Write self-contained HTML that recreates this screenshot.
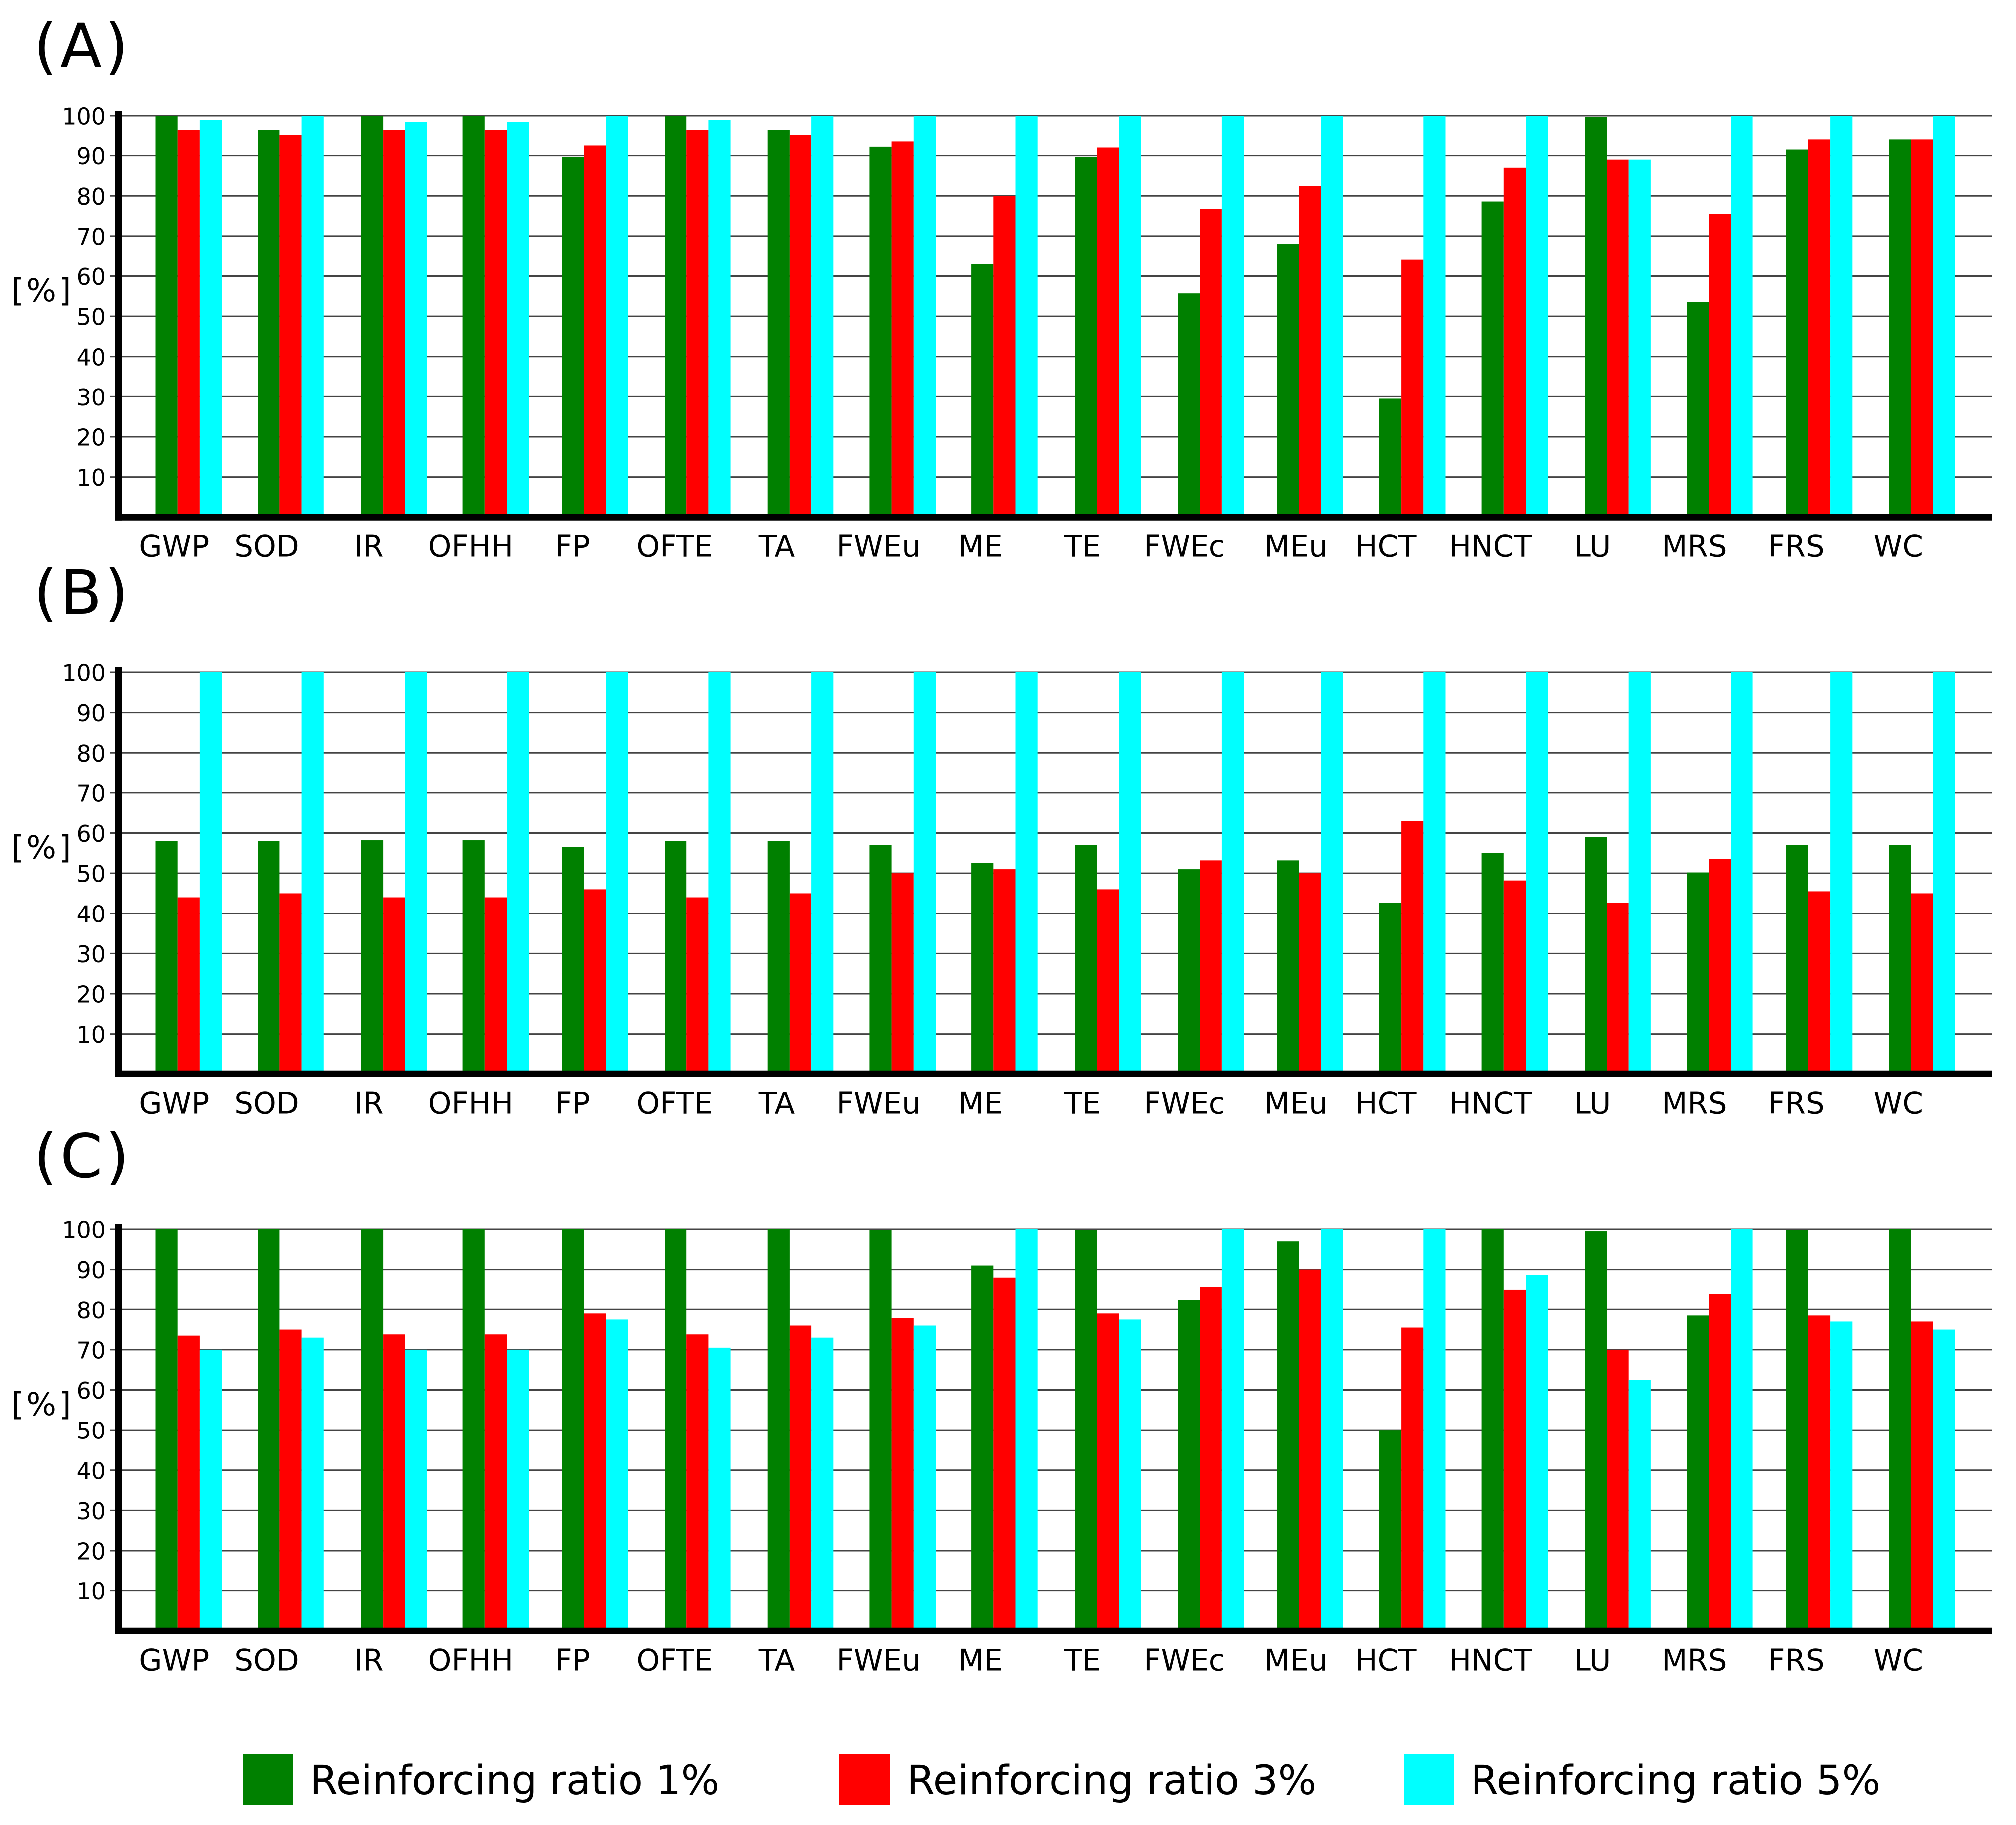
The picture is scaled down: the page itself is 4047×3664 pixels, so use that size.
<!DOCTYPE html>
<html lang="en">
<head>
<meta charset="utf-8">
<title>Reinforcing ratio comparison</title>
<style>
  html, body { margin: 0; padding: 0; background: #fff; }
  svg { display: block; }
  text { font-family: "DejaVu Sans", "Liberation Sans", sans-serif; fill: #000; }
</style>
</head>
<body>
<svg id="chart" xmlns="http://www.w3.org/2000/svg" width="4047" height="3664" viewBox="0 0 4047 3664">
  <rect x="0" y="0" width="4047" height="3664" fill="#ffffff"/>
  <g id="panels"></g>
  <g>
    <g>
      <rect x="487" y="3521" width="102" height="102" fill="#008000"/>
      <text x="622" y="3602" font-size="81">Reinforcing ratio 1%</text>
    </g>
    <g>
      <rect x="1685" y="3521" width="102" height="102" fill="#ff0000"/>
      <text x="1820" y="3602" font-size="81">Reinforcing ratio 3%</text>
    </g>
    <g>
      <rect x="2818" y="3521" width="100" height="102" fill="#00ffff"/>
      <text x="2952" y="3602" font-size="81">Reinforcing ratio 5%</text>
    </g>
  </g>
</svg>
<script>
const categories = ["GWP","SOD","IR","OFHH","FP","OFTE","TA","FWEu","ME","TE","FWEc","MEu","HCT","HNCT","LU","MRS","FRS","WC"];
const yTicks = [10,20,30,40,50,60,70,80,90,100];
const panelNames = ["A","B","C"];

const panelAGreen = [100,96.5,100,100,89.7,100,96.5,92.2,63,89.6,55.7,68,29.5,78.6,99.7,53.5,91.5,94];
const panelARed = [96.5,95.1,96.5,96.5,92.5,96.5,95.1,93.5,80,92,76.7,82.5,64.2,87,89,75.5,94,94];
const panelACyan = [99,100,98.5,98.5,100,99,100,100,100,100,100,100,100,100,89,100,100,100];

const panelBGreen = [58,58,58.2,58.2,56.5,58,58,57,52.5,57,51,53.2,42.7,55,59,50.2,57,57];
const panelBRed = [44,45,44,44,46,44,45,50,51,46,53.2,50,63,48.2,42.7,53.5,45.5,45];
const panelBCyan = [100,100,100,100,100,100,100,100,100,100,100,100,100,100,100,100,100,100];

const panelCGreen = [100,100,100,100,100,100,100,99.8,91,99.8,82.5,97,50,100,99.5,78.5,99.8,100];
const panelCRed = [73.5,75,73.8,73.8,79,73.8,76,77.8,88,79,85.7,90,75.5,85,70,84,78.5,77];
const panelCCyan = [70,73,70,70,77.5,70.5,73,76,100,77.5,100,100,100,88.7,62.5,100,77,75];

const panelSeries = [
  [panelAGreen, panelARed, panelACyan],
  [panelBGreen, panelBRed, panelBCyan],
  [panelCGreen, panelCRed, panelCCyan]
];
const seriesNames = ["ratio-1","ratio-3","ratio-5"];
const seriesColors = ["#008000","#ff0000","#00ffff"];

const SVG_NS = "http://www.w3.org/2000/svg";
const panelStep = 1118;
const plotTop = 232;
const unitHeight = 8.063;
const groupStart = 312.5;
const groupStep = 204.7;
const barWidth = 44.2;
const axisX = 237.5;
const plotRight = 3998;
const labelOffset = -48;
const labelNudge = { GWP: 19, MEu: 19, HCT: -5 };
const groupNudge = { IR: 3, OFHH: 2, FP: -3, OFTE: -2, TE: 3, FWEc: 5, MEu: -1, HNCT: 1, LU: 3, MRS: 3, FRS: -2 };
const titleBaselines = { A: 135, B: 1232, C: 2364 };

function xBase(catIndex, seriesIndex) {
  return groupStart + groupStep * catIndex + barWidth * seriesIndex;
}
function xBand(catIndex, seriesIndex) {
  return xBase(catIndex, seriesIndex) + (groupNudge[categories[catIndex]] || 0);
}
function yValue(value, panelIndex) {
  return panelStep * panelIndex + plotTop + (100 - value) * unitHeight;
}

const root = document.getElementById("panels");

panelNames.forEach(function (panelName, p) {
  const lower = panelName.toLowerCase();
  const group = document.createElementNS(SVG_NS, "g");
  
  
  root.appendChild(group);

  const title = document.createElementNS(SVG_NS, "text");
  
  
  title.setAttribute("x", 67.5);
  title.setAttribute("y", titleBaselines[panelName]);
  title.setAttribute("font-size", 122);
  title.setAttribute("letter-spacing", 5.5);
  title.textContent = "(" + panelName + ")";
  group.appendChild(title);

  const unit = document.createElementNS(SVG_NS, "text");
  
  
  unit.setAttribute("x", 23.5);
  unit.setAttribute("y", yValue(50, p) - 30);
  unit.setAttribute("font-size", 63);
  unit.setAttribute("letter-spacing", 5);
  unit.textContent = "[%]";
  group.appendChild(unit);

  yTicks.forEach(function (tick) {
    const y = yValue(tick, p);
    const line = document.createElementNS(SVG_NS, "line");
    
    
    line.setAttribute("x1", 220);
    line.setAttribute("x2", plotRight);
    line.setAttribute("y1", y);
    line.setAttribute("y2", y);
    line.setAttribute("stroke", "#444444");
    line.setAttribute("stroke-width", 3);
    group.appendChild(line);

    const label = document.createElementNS(SVG_NS, "text");
    
    
    label.setAttribute("x", 212);
    label.setAttribute("y", y + 17.5);
    label.setAttribute("font-size", 46);
    label.setAttribute("text-anchor", "end");
    label.textContent = tick;
    group.appendChild(label);
  });

  panelSeries[p].forEach(function (values, s) {
    values.forEach(function (value, c) {
      const bar = document.createElementNS(SVG_NS, "rect");
      
      
      bar.setAttribute("x", xBand(c, s));
      bar.setAttribute("y", yValue(value, p));
      bar.setAttribute("width", barWidth);
      bar.setAttribute("height", yValue(0, p) - yValue(value, p));
      bar.setAttribute("fill", seriesColors[s]);
      group.appendChild(bar);
    });
  });

  const yAxis = document.createElementNS(SVG_NS, "line");
  
  
  yAxis.setAttribute("x1", axisX);
  yAxis.setAttribute("x2", axisX);
  yAxis.setAttribute("y1", yValue(100, p) - 10);
  yAxis.setAttribute("y2", yValue(0, p) + 6.5);
  yAxis.setAttribute("stroke", "#000000");
  yAxis.setAttribute("stroke-width", 13);
  group.appendChild(yAxis);

  const xAxis = document.createElementNS(SVG_NS, "line");
  
  
  xAxis.setAttribute("x1", axisX - 6.5);
  xAxis.setAttribute("x2", plotRight);
  xAxis.setAttribute("y1", yValue(0, p));
  xAxis.setAttribute("y2", yValue(0, p));
  xAxis.setAttribute("stroke", "#000000");
  xAxis.setAttribute("stroke-width", 13);
  group.appendChild(xAxis);

  categories.forEach(function (category, c) {
    const text = document.createElementNS(SVG_NS, "text");
    
    
    text.setAttribute("x", xBase(c, 1.5) + labelOffset + (labelNudge[category] || 0));
    text.setAttribute("y", yValue(0, p) + 79);
    text.setAttribute("font-size", 59.5);
    text.setAttribute("text-anchor", "middle");
    text.textContent = category;
    group.appendChild(text);
  });
});
</script>
</body>
</html>
